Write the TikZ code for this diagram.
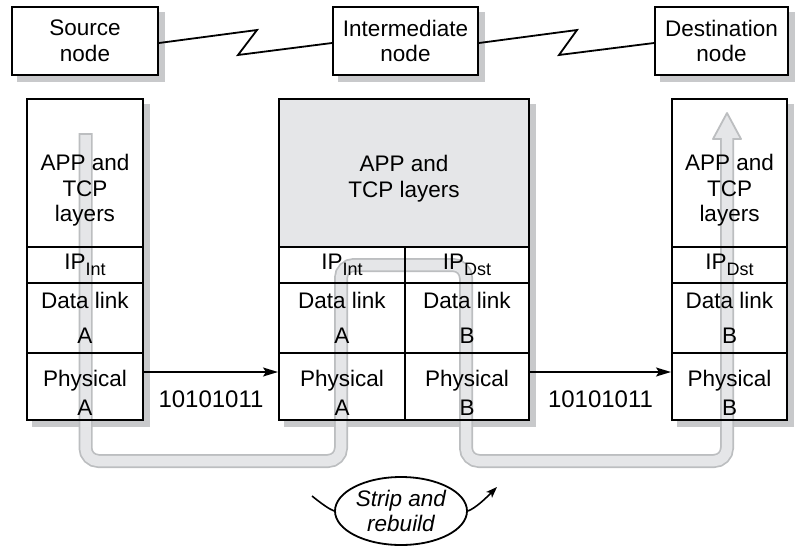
\documentclass[tikz,border=0pt]{standalone}
\usepackage{fontspec}
\setmainfont{Liberation Sans}
\usepackage{tikz}
\usetikzlibrary{arrows.meta,shapes.geometric}
\definecolor{shadowgray}{RGB}{200, 201, 203}
\definecolor{pipefill}{RGB}{229, 230, 232}
\definecolor{pipeedge}{RGB}{188, 190, 192}
\definecolor{appgray}{RGB}{229, 230, 232}
\pgfdeclarelayer{back}
\pgfdeclarelayer{pipe}
\pgfsetlayers{back,pipe,main}
\newcommand{\ipsub}[1]{IP\raisebox{-6pt}{\fontsize{18}{18}\selectfont #1}}
\newcommand{\lowered}[2]{\raisebox{-#1}[\height][\depth]{\begin{tabular}{@{}c@{}}#2\end{tabular}}}

\begin{document}
\begin{tikzpicture}[x=1pt, y=-1pt,
    font=\fontsize{22.5}{25.5}\selectfont,
    box/.style={draw, line width=2pt, fill=white, align=center, inner sep=0pt, minimum width=146pt, minimum height=68pt},
    cell/.style={draw, line width=2pt, align=center, inner sep=0pt},
    approw/.style={minimum height=148pt},
    iprow/.style={minimum height=36pt},
    linkrow/.style={minimum height=70pt},
    phyrow/.style={minimum height=67pt},
    wire/.style={line width=1.8pt, line join=miter},
    flow/.style={line width=1.6pt, -{Stealth[length=15pt, width=9pt, inset=3pt]}}]
    \useasboundingbox (0,0) rectangle (795,546);

    % Top row of nodes
    \node[box] (src) at (85,41) {Source\\node};
    \node[box, minimum width=145pt] (inter) at (405.5,41) {Intermediate\\node};
    \node[box, minimum width=133pt] (dest) at (721.5,41) {Destination\\node};

    % Zigzag links
    \draw[wire] ([yshift=-2pt]src.east) -- ++(98,-13) -- ++(-19,25) -- ([yshift=-2pt]inter.west);
    \draw[wire] ([yshift=-2pt]inter.east) -- ++(98,-13) -- ++(-18,25) -- ([yshift=-2pt]dest.west);

    % Source stack
    \node[cell, minimum width=116pt, approw] (srcApp) at (85,173) {\lowered{18pt}{APP and\\TCP\\layers}};
    \node[cell, minimum width=116pt, iprow] (srcIp) at (85,265) {\ipsub{Int}};
    \node[cell, minimum width=116pt, linkrow] (srcLink) at (85,318) {Data link\\[9.5pt]A};
    \node[cell, minimum width=116pt, phyrow] (srcPhy) at (85,386.5) {\lowered{9.5pt}{Physical\\[3pt]A}};

    % Intermediate stack
    \node[cell, fill=appgray, minimum width=250pt, approw] (midApp) at (404,173) {\lowered{6.5pt}{APP and\\TCP layers}};
    \node[cell, minimum width=126pt, iprow] (midIpA) at (342,265) {\ipsub{Int}};
    \node[cell, minimum width=124pt, iprow] (midIpB) at (467,265) {\ipsub{Dst}};
    \node[cell, minimum width=126pt, linkrow] (midLinkA) at (342,318) {Data link\\[9.5pt]A};
    \node[cell, minimum width=124pt, linkrow] (midLinkB) at (467,318) {Data link\\[9.5pt]B};
    \node[cell, minimum width=126pt, phyrow] (midPhyA) at (342,386.5) {\lowered{9.5pt}{Physical\\[3pt]A}};
    \node[cell, minimum width=124pt, phyrow] (midPhyB) at (467,386.5) {\lowered{9.5pt}{Physical\\[3pt]B}};

    % Destination stack
    \node[cell, minimum width=115pt, approw] (dstApp) at (729.5,173) {\lowered{18pt}{APP and\\TCP\\layers}};
    \node[cell, minimum width=115pt, iprow] (dstIp) at (729.5,265) {\ipsub{Dst}};
    \node[cell, minimum width=115pt, linkrow] (dstLink) at (729.5,318) {Data link\\[9.5pt]B};
    \node[cell, minimum width=115pt, phyrow] (dstPhy) at (729.5,386.5) {\lowered{9.5pt}{Physical\\[3pt]B}};

    % Shadows and white backing
    \begin{pgfonlayer}{back}
      \foreach \a/\b in {src/src, inter/inter, dest/dest, srcApp/srcPhy, midApp/midPhyB, dstApp/dstPhy}
        \fill[shadowgray] ([shift={(6,6)}]\a.north west) rectangle ([shift={(6,6)}]\b.south east);
      \foreach \a/\b in {srcApp/srcPhy, midApp/midPhyB, dstApp/dstPhy}
        \fill[white] (\a.north west) rectangle (\b.south east);
    \end{pgfonlayer}

    % Packet path
    \begin{pgfonlayer}{pipe}
      \draw[pipeedge, line width=14pt, rounded corners=13pt] (85.5,133) |- (341,461) |- (466,265) |- (727,461) -- (727,139);
      \filldraw[fill=pipefill, draw=pipeedge, line width=1.8pt, line join=round] (713,139) -- (727,113) -- (741,139) -- cycle;
      \draw[pipefill, line width=10.5pt, rounded corners=13pt] (85.5,135) |- (341,461) |- (466,265) |- (727,461) -- (727,137);
    \end{pgfonlayer}

    % Bit streams
    \draw[flow] ([yshift=14.5pt]srcPhy.east) -- ([yshift=14.5pt]midPhyA.west)
        node[midway, below=18pt, inner sep=0pt, font=\fontsize{24}{24}\selectfont] (bitsA) {10101011};
    \draw[flow] ([yshift=14.5pt]midPhyB.east) -- ([yshift=14.5pt]dstPhy.west)
        node[midway, below=18pt, inner sep=0pt, font=\fontsize{24}{24}\selectfont] (bitsB) {10101011};

    % Strip and rebuild
    \coordinate (turnL) at (312,496);
    \coordinate (turnR) at (497,487);
    \node[ellipse, draw, line width=1.8pt, fill=white, minimum width=132pt, minimum height=68pt, inner sep=0pt, align=center,
        font=\itshape\fontsize{22.5}{25.5}\selectfont] (strip) at (401,511) {Strip and\\rebuild};
    \draw[line width=1.6pt] (turnL) .. controls (322,504) and (329,509) .. (strip.west);
    \draw[line width=1.6pt, -{Stealth[length=11pt, width=8pt, inset=2.5pt]}] (strip.east) .. controls (476,508) and (487,497) .. (turnR);
\end{tikzpicture}
\end{document}
